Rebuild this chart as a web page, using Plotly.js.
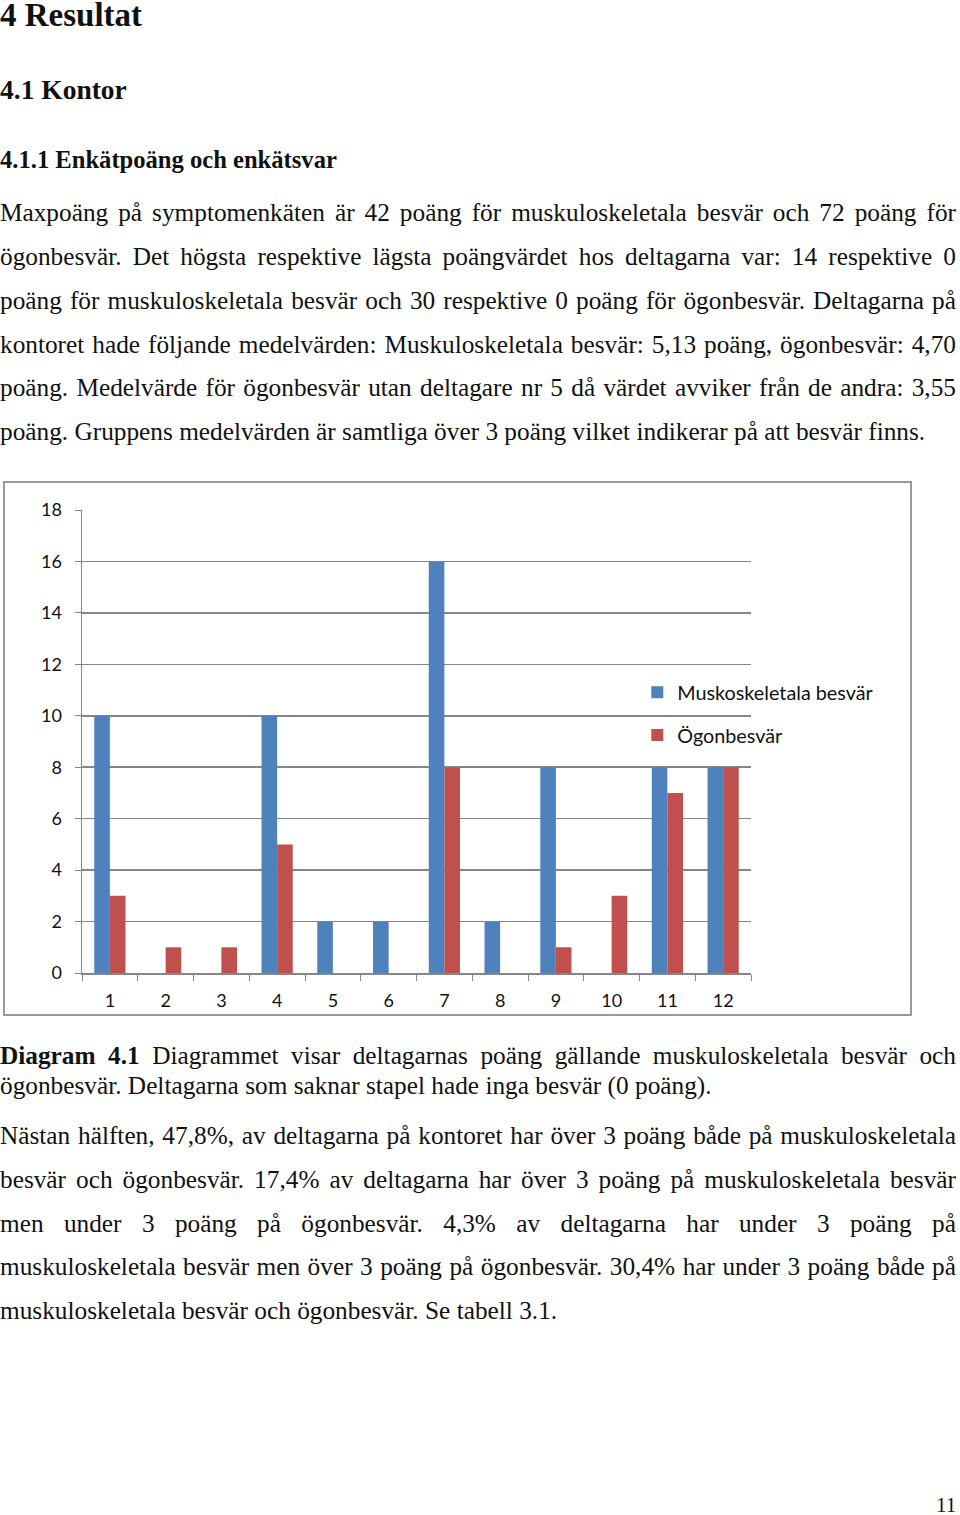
<!DOCTYPE html>
<html>
<head>
<meta charset="utf-8">
<script src="https://cdn.plot.ly/plotly-3.0.1.min.js"></script>
<style>
  html, body { margin:0; padding:0; background:#fff; }
  body { width:960px; height:1515px; position:relative; overflow:hidden; }
  .h { position:absolute; left:0; font-family:'Liberation Serif', serif; font-weight:bold; color:#111; white-space:nowrap; }
  .ln { position:absolute; left:0; font-family:'Liberation Serif', serif; font-size:25.3px; line-height:30px; color:#111; white-space:nowrap; transform-origin:0 0; }
  .j { text-align:justify; text-align-last:justify; white-space:normal; }
  #box { position:absolute; left:3px; top:481px; width:909px; height:535px; box-sizing:border-box; border:2px solid #9a9a9a; }
  #chart { position:absolute; left:3px; top:481px; width:909px; height:535px; }
</style>
</head>
<body>
<div id="content"></div>
<div id="chart"></div>
<div id="box"></div>
<script>
// ---- data ----
var participants = ["1","2","3","4","5","6","7","8","9","10","11","12"];
var muskoskeletala = [10, 0, 0, 10, 2, 2, 16, 2, 8, 0, 8, 8];
var ogonbesvar = [3, 1, 1, 5, 0, 0, 8, 0, 1, 3, 7, 8];
var seriesNames = ["Muskoskeletala besvär", "Ögonbesvär"];
var yTicks = [0, 2, 4, 6, 8, 10, 12, 14, 16, 18];

// ---- text of the page ----
var headings = [
  {text:"4 Resultat", size:33, top:0, lh:30},
  {text:"4.1 Kontor", size:27.5, top:74, lh:32},
  {text:"4.1.1 Enkätpoäng och enkätsvar", size:24.6, top:145, lh:30}
];
var para1 = [
  "Maxpoäng på symptomenkäten är 42 poäng för muskuloskeletala besvär och 72 poäng för",
  "ögonbesvär. Det högsta respektive lägsta poängvärdet hos deltagarna var: 14 respektive 0",
  "poäng för muskuloskeletala besvär och 30 respektive 0 poäng för ögonbesvär. Deltagarna på",
  "kontoret hade följande medelvärden: Muskuloskeletala besvär: 5,13 poäng, ögonbesvär: 4,70",
  "poäng. Medelvärde för ögonbesvär utan deltagare nr 5 då värdet avviker från de andra: 3,55",
  "poäng. Gruppens medelvärden är samtliga över 3 poäng vilket indikerar på att besvär finns."
];
var para1Y = [213, 257, 301, 345, 388, 432];
var captionBold = "Diagram 4.1";
var caption = [
  " Diagrammet visar deltagarnas poäng gällande muskuloskeletala besvär och",
  "ögonbesvär. Deltagarna som saknar stapel hade inga besvär (0 poäng)."
];
var captionY = [1056, 1086];
var para2 = [
  "Nästan hälften, 47,8%, av deltagarna på kontoret har över 3 poäng både på muskuloskeletala",
  "besvär och ögonbesvär. 17,4% av deltagarna har över 3 poäng på muskuloskeletala besvär",
  "men under 3 poäng på ögonbesvär. 4,3% av deltagarna har under 3 poäng på",
  "muskuloskeletala besvär men över 3 poäng på ögonbesvär. 30,4% har under 3 poäng både på",
  "muskuloskeletala besvär och ögonbesvär. Se tabell 3.1."
];
var para2Y = [1136, 1180, 1224, 1267, 1311];
var pageNumber = "11";

var FULLW = 956;
var content = document.getElementById('content');
headings.forEach(function(h){
  var d = document.createElement('div');
  d.className = 'h';
  d.style.fontSize = h.size + 'px';
  d.style.lineHeight = h.lh + 'px';
  d.style.top = h.top + 'px';
  d.textContent = h.text;
  content.appendChild(d);
});
function addLines(lines, ys, boldPrefix){
  lines.forEach(function(t, i){
    var d = document.createElement('div');
    d.className = 'ln';
    d.style.top = (ys[i] - 16) + 'px';
    if (i < lines.length - 1) {
      d.classList.add('j');
      d.style.width = FULLW + 'px';
      d.style.height = '30px';
    }
    if (i === 0 && boldPrefix) {
      var b = document.createElement('b');
      b.textContent = boldPrefix;
      d.appendChild(b);
      d.appendChild(document.createTextNode(t));
    } else {
      d.textContent = t;
    }
    content.appendChild(d);
  });
}
addLines(para1, para1Y);
addLines(caption, captionY, captionBold);
addLines(para2, para2Y);
var pn = document.createElement('div');
pn.className = 'ln';
pn.style.left = '936px';
pn.style.top = (1506 - 16) + 'px';
pn.style.fontSize = '21px';
pn.textContent = pageNumber;
content.appendChild(pn);

// ---- chart ----
var font = {family:'Lato, "Open Sans", sans-serif', size:18, color:'#111'};
var legendFont = {family:'Lato, "Open Sans", sans-serif', size:19.8, color:'#111'};
var traces = [
  {type:'bar', x:participants, y:muskoskeletala, name:seriesNames[0], legendgroup:'a',
   marker:{color:'#4F81BD', line:{width:0}}},
  {type:'bar', x:participants, y:ogonbesvar, name:seriesNames[1], legendgroup:'b',
   marker:{color:'#C0504D', line:{width:0}}}
];
var layout = {
  width:909, height:535,
  margin:{l:79, r:161, t:29, b:43, pad:0},
  paper_bgcolor:'rgba(0,0,0,0)', plot_bgcolor:'rgba(0,0,0,0)',
  font:font,
  barmode:'group', bargap:0.44, bargroupgap:0,
  showlegend:true,
  legend:{x:0.83, xanchor:'left', y:0.648, yanchor:'top', bgcolor:'rgba(0,0,0,0)',
          traceorder:'grouped', tracegroupgap:14, font:legendFont, itemwidth:30},
  xaxis:{type:'category', tickson:'boundaries', ticks:'outside', ticklen:6, tickcolor:'#868686',
         showline:true, linecolor:'#868686', linewidth:1.5, showgrid:false, zeroline:false,
         ticklabelstandoff:11, tickfont:font, fixedrange:true},
  yaxis:{range:[0,18], tickvals:yTicks, ticks:'outside', ticklen:6, tickcolor:'#868686',
         showline:true, linecolor:'#868686', linewidth:1.5, showgrid:true, gridcolor:'#868686', gridwidth:1.5,
         zeroline:false, ticklabelstandoff:9, tickfont:font, fixedrange:true}
};
Plotly.newPlot('chart', traces, layout, {displayModeBar:false, staticPlot:true});
</script>
</body>
</html>
